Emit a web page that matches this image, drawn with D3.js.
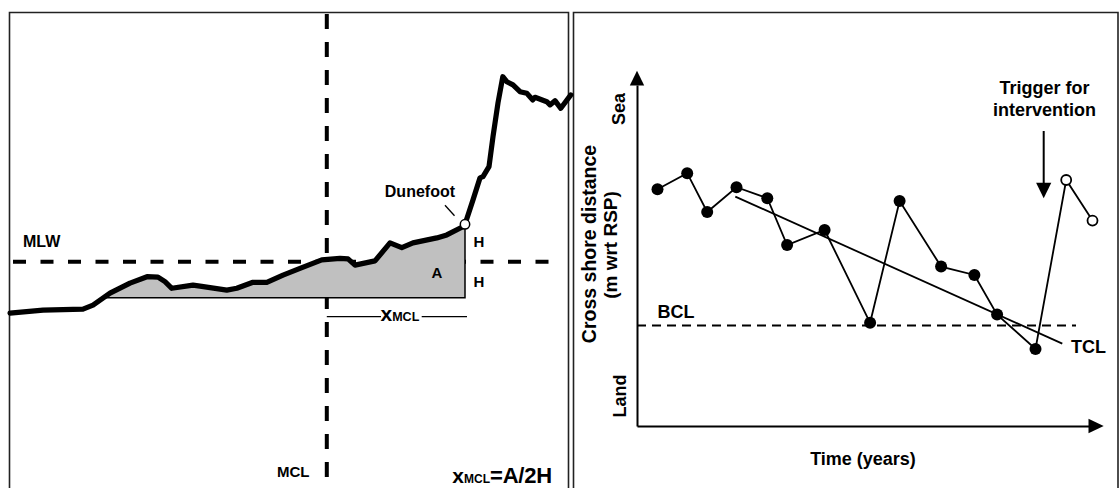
<!DOCTYPE html>
<html>
<head>
<meta charset="utf-8">
<script src="https://cdn.jsdelivr.net/npm/d3@7"></script>
<style>
  html, body { margin: 0; padding: 0; background: #fff; }
  svg { display: block; }
  text { font-family: "Liberation Sans", Arial, Helvetica, sans-serif; font-weight: bold; fill: #000; }
</style>
</head>
<body>
<svg id="chart" width="1119" height="488"></svg>
<script>
// ---------------- DATA ----------------
// Left panel: beach/dune cross-shore profile (distance in m, elevation in m wrt MLW)
const profileDist = [0,16.5,36.5,41.5,50,60,68.5,74,77.5,80.9,91.5,95,108.4,113.4,121.5,128.4,136.5,145,155.9,165,169,172.5,182.5,190,195.9,201.5,213.4,218.4,226.4,227.5,231.5,235,236.5,239.5,241.5,244,246.4,248.4,251.5,255,258.4,261.4,262.5,268.4,270,272.5,275.4,280.4];
const profileElev = [-2.57,-2.42,-2.37,-2.17,-1.57,-1.07,-0.75,-0.77,-1.0,-1.33,-1.17,-1.22,-1.42,-1.33,-1.03,-1.03,-0.67,-0.33,0.09,0.17,0.14,-0.17,0.04,0.94,0.7,0.94,1.19,1.34,1.75,1.87,3.09,4.19,4.25,4.75,6.25,7.94,9.25,9.0,8.84,8.5,8.42,8.09,8.22,8.0,7.84,8.05,7.67,8.34];
const duneFootIndex = 29;
const mlwLevel = 0;
const fillBase = -1.8;        // MLW - H
const mclDist = 158.4;

// Right panel: coastline position time series
const timeYears   = [2.05, 5.02, 7.02, 9.95, 13.03, 15.01, 18.76, 23.31, 26.26, 30.41, 33.74, 36.01, 39.85];
const distance    = [118.4, 126.4, 107.0, 119.4, 113.9, 90.5, 98.0, 51.6, 112.5, 79.7, 75.5, 55.7, 38.5];
const timeAfter   = [42.92, 45.55];
const distAfter   = [123.0, 102.7];
const bclValue    = 50.3;
const bclEndTime  = 43.9;
const tclTime     = [9.83, 42.53];
const tclDist     = [114.7, 41.2];
const triggerTime = 40.67;

// ---------------- DRAW ----------------
const svg = d3.select("#chart");

// panel frames
const frames = [[9.5, 568.5], [573.5, 1118]];
frames.forEach(([l, r]) => {
  svg.append("path")
    .attr("d", `M${l},495 V12.5 H${r} V495`)
    .attr("fill", "none").attr("stroke", "#222").attr("stroke-width", 1.6);
});

// ===== Left panel =====
const xL = d3.scaleLinear().domain([0, 280]).range([10, 570]);
const yL = d3.scaleLinear().domain([-1.8, 1.8]).range([297.7, 225.7]);

const gL = svg.append("g");

// MLW dashed line
gL.append("line")
  .attr("x1", 13).attr("x2", 562)
  .attr("y1", yL(mlwLevel)).attr("y2", yL(mlwLevel))
  .attr("stroke", "#000").attr("stroke-width", 4)
  .attr("stroke-dasharray", "13,14.5");

// MCL dashed line
gL.append("line")
  .attr("x1", xL(mclDist)).attr("x2", xL(mclDist))
  .attr("y1", 14).attr("y2", 477)
  .attr("stroke", "#000").attr("stroke-width", 4)
  .attr("stroke-dasharray", "15,13");

// profile points
const prof = profileDist.map((d, i) => ({ d, e: profileElev[i] }));

// area A (between base level and profile up to the dune foot)
let startIdx = prof.findIndex(p => p.e >= fillBase);
const p0 = prof[startIdx - 1], p1 = prof[startIdx];
const crossD = p0.d + (fillBase - p0.e) / (p1.e - p0.e) * (p1.d - p0.d);
const areaPts = [{ d: crossD, e: fillBase }].concat(prof.slice(startIdx, duneFootIndex + 1));
gL.append("path")
  .datum(areaPts)
  .attr("d", d3.area().x(p => xL(p.d)).y0(yL(fillBase)).y1(p => yL(p.e)))
  .attr("fill", "#c0c0c0").attr("stroke", "#000").attr("stroke-width", 1.5);

// profile line
gL.append("path")
  .datum(prof)
  .attr("d", d3.line().x(p => xL(p.d)).y(p => yL(p.e)))
  .attr("fill", "none").attr("stroke", "#000").attr("stroke-width", 5.2)
  .attr("stroke-linejoin", "round").attr("stroke-linecap", "round");

// dune foot marker
const df = prof[duneFootIndex];
gL.append("circle")
  .attr("cx", xL(df.d)).attr("cy", yL(df.e)).attr("r", 4.7)
  .attr("fill", "#fff").attr("stroke", "#000").attr("stroke-width", 1.5);
gL.append("line")
  .attr("x1", xL(df.d) - 20).attr("y1", yL(df.e) - 19)
  .attr("x2", xL(df.d) - 10.5).attr("y2", yL(df.e) - 8.5)
  .attr("stroke", "#000").attr("stroke-width", 1.3);
gL.append("text").attr("x", 384.8).attr("y", 196.7).attr("font-size", 16).text("Dunefoot");

// labels
gL.append("text").attr("x", 23).attr("y", 246.7).attr("font-size", 16).text("MLW");
gL.append("text").attr("x", 473.5).attr("y", 247.3).attr("font-size", 15).text("H");
gL.append("text").attr("x", 473.5).attr("y", 287.3).attr("font-size", 15).text("H");
gL.append("text").attr("x", 431.5).attr("y", 278.3).attr("font-size", 15).text("A");
gL.append("text").attr("x", 277).attr("y", 477.3).attr("font-size", 15).text("MCL");

// x_MCL dimension line
const yDim = 316.7;
gL.append("line").attr("x1", xL(mclDist)).attr("x2", 381).attr("y1", yDim).attr("y2", yDim)
  .attr("stroke", "#000").attr("stroke-width", 1.2);
gL.append("line").attr("x1", 421.7).attr("x2", xL(df.d) + 2).attr("y1", yDim).attr("y2", yDim)
  .attr("stroke", "#000").attr("stroke-width", 1.2);
const tx = gL.append("text").attr("x", 380.5).attr("y", 321);
tx.append("tspan").attr("font-size", 21).text("x");
tx.append("tspan").attr("font-size", 12.5).text("MCL");

// formula
const tf = gL.append("text").attr("x", 452.3).attr("y", 482.7);
tf.append("tspan").attr("font-size", 21).text("x");
tf.append("tspan").attr("font-size", 12).text("MCL");
tf.append("tspan").attr("font-size", 22).attr("letter-spacing", -0.2).text("=A/2H");

// ===== Right panel =====
const xR = d3.scaleLinear().domain([0, 45.2]).range([637, 1089]);
const yR = d3.scaleLinear().domain([0, 170.5]).range([426, 85]);
const gR = svg.append("g");

// axes (no ticks)
const axX = gR.append("g").attr("transform", `translate(0,${yR(0)})`)
  .call(d3.axisBottom(xR).tickValues([]).tickSizeOuter(0));
const axY = gR.append("g").attr("transform", `translate(${xR(0)},0)`)
  .call(d3.axisLeft(yR).tickValues([]).tickSizeOuter(0));
[axX, axY].forEach(a => a.select(".domain").attr("stroke", "#000").attr("stroke-width", 2));

// arrow heads
gR.append("path")
  .attr("d", `M${xR(0) - 7.2},${yR(170.5) + 0.5} L${xR(0) + 7.2},${yR(170.5) + 0.5} L${xR(0)},${70.7} Z`)
  .attr("fill", "#000");
gR.append("path")
  .attr("d", `M${xR(45.2) - 0.5},${yR(0) - 7.3} L${xR(45.2) - 0.5},${yR(0) + 7.3} L${1103.7},${yR(0)} Z`)
  .attr("fill", "#000");

// BCL dashed line
gR.append("line")
  .attr("x1", xR(0)).attr("x2", xR(bclEndTime))
  .attr("y1", yR(bclValue)).attr("y2", yR(bclValue))
  .attr("stroke", "#000").attr("stroke-width", 2).attr("stroke-dasharray", "9,6");

// TCL trend line
gR.append("line")
  .attr("x1", xR(tclTime[0])).attr("y1", yR(tclDist[0]))
  .attr("x2", xR(tclTime[1])).attr("y2", yR(tclDist[1]))
  .attr("stroke", "#000").attr("stroke-width", 1.8);

// series line (measured + after nourishment)
const series = timeYears.map((t, i) => ({ t, v: distance[i] }));
const after = timeAfter.map((t, i) => ({ t, v: distAfter[i] }));
gR.append("path")
  .datum(series.concat(after))
  .attr("d", d3.line().x(p => xR(p.t)).y(p => yR(p.v)))
  .attr("fill", "none").attr("stroke", "#000").attr("stroke-width", 1.8);

gR.selectAll("circle.filled").data(series).join("circle")
  .attr("class", "filled")
  .attr("cx", p => xR(p.t)).attr("cy", p => yR(p.v)).attr("r", 6)
  .attr("fill", "#000");
gR.selectAll("circle.open").data(after).join("circle")
  .attr("class", "open")
  .attr("cx", p => xR(p.t)).attr("cy", p => yR(p.v)).attr("r", 5)
  .attr("fill", "#fff").attr("stroke", "#000").attr("stroke-width", 1.8);

// trigger arrow
const tX = xR(triggerTime);
gR.append("line").attr("x1", tX).attr("x2", tX).attr("y1", 131).attr("y2", 184)
  .attr("stroke", "#000").attr("stroke-width", 2);
gR.append("path")
  .attr("d", `M${tX - 7.6},182.7 L${tX + 7.6},182.7 L${tX},198.3 Z`)
  .attr("fill", "#000");

// right panel texts
gR.append("text").attr("x", 1044.5).attr("y", 94.3).attr("font-size", 18)
  .attr("text-anchor", "middle").text("Trigger for");
gR.append("text").attr("x", 1044.5).attr("y", 115.7).attr("font-size", 18)
  .attr("text-anchor", "middle").text("intervention");
gR.append("text").attr("x", 657.5).attr("y", 318).attr("font-size", 18).text("BCL");
gR.append("text").attr("x", 1071).attr("y", 353).attr("font-size", 18).text("TCL");
gR.append("text").attr("x", (xR(0) + xR(45.2)) / 2).attr("y", 465).attr("font-size", 18)
  .attr("text-anchor", "middle").text("Time (years)");

const rot = (x, y, s, fs) => gR.append("text")
  .attr("transform", `translate(${x},${y}) rotate(-90)`)
  .attr("font-size", fs).attr("text-anchor", "middle").text(s);
rot(625.3, 109, "Sea", 18);
rot(626, 396, "Land", 18);
rot(595.5, 244, "Cross shore distance", 19.5);
rot(617, 245, "(m wrt RSP)", 19);
</script>
</body>
</html>
